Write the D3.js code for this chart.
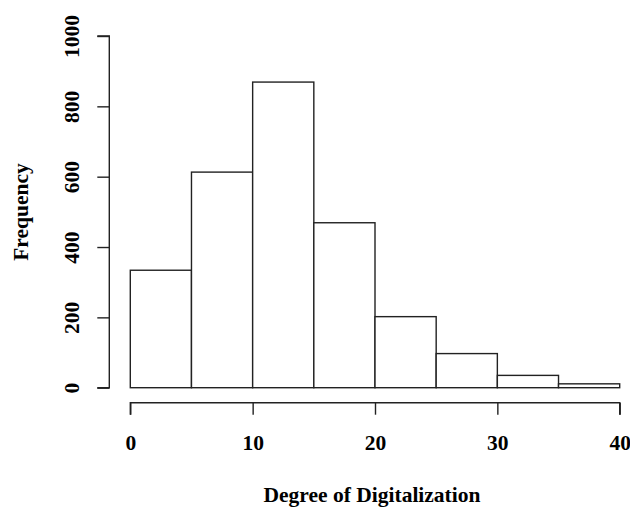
<!DOCTYPE html>
<html><head><meta charset="utf-8">
<script src="https://cdn.jsdelivr.net/npm/d3@7"></script>
<style>body{margin:0;background:#fff}svg{display:block}</style>
</head><body>
<script>
const binStarts = [0, 5, 10, 15, 20, 25, 30, 35];
const binWidth = 5;
const counts = [334, 613, 869, 469, 202, 97, 35, 11];
const xTicks = [0, 10, 20, 30, 40];
const yTicks = [0, 200, 400, 600, 800, 1000];
const xTitle = "Degree of Digitalization";
const yTitle = "Frequency";

const W = 630, H = 507;
const svg = d3.select("body").append("svg").attr("width", W).attr("height", H);
const x = d3.scaleLinear().domain([0, 40]).range([130.3, 619.7]);
const y = d3.scaleLinear().domain([0, 1000]).range([387.7, 36]);
const font = "'Liberation Serif', 'Times New Roman', serif";
const fs = 21.5;
const col = "#222";

svg.append("g").selectAll("rect").data(counts).join("rect")
  .attr("x", (d, i) => x(binStarts[i]))
  .attr("y", d => y(d))
  .attr("width", (d, i) => x(binStarts[i] + binWidth) - x(binStarts[i]))
  .attr("height", d => y(0) - y(d))
  .attr("fill", "#fff").attr("stroke", col).attr("stroke-width", 1.4);

// x axis
const xAxis = d3.axisBottom(x).tickValues(xTicks).tickSize(12).tickFormat(d3.format("d"));
const gx = svg.append("g").attr("transform", "translate(0,402.7)").call(xAxis);
gx.select(".domain").attr("stroke", col).attr("stroke-width", 1.4).attr("d", `M${x(0)},12V0H${x(40)}V12`);
gx.selectAll(".tick line").attr("stroke", col).attr("stroke-width", 1.4);
gx.selectAll(".tick text").attr("font-family", font).attr("font-weight", "bold").attr("font-size", fs).attr("fill", "#000")
  .attr("y", 47.5).attr("dy", null);

// y axis
const yAxis = d3.axisLeft(y).tickValues(yTicks).tickSize(12).tickFormat(d3.format("d"));
const gy = svg.append("g").attr("transform", "translate(109.3,0)").call(yAxis);
gy.select(".domain").attr("stroke", col).attr("stroke-width", 1.4).attr("d", `M-12,${y(1000)}H0V${y(0)}H-12`);
gy.selectAll(".tick line").attr("stroke", col).attr("stroke-width", 1.4);
gy.selectAll(".tick text").attr("font-family", font).attr("font-weight", "bold").attr("font-size", fs).attr("fill", "#000")
  .attr("x", null).attr("dy", null)
  .attr("text-anchor", "middle")
  .attr("transform", "translate(-30,0) rotate(-90)");

svg.append("text").attr("x", 372).attr("y", 502)
  .attr("text-anchor", "middle").attr("font-family", font).attr("font-weight", "bold").attr("font-size", fs)
  .text(xTitle);
svg.append("text").attr("transform", "translate(28,212) rotate(-90)")
  .attr("text-anchor", "middle").attr("font-family", font).attr("font-weight", "bold").attr("font-size", fs)
  .text(yTitle);
</script>
</body></html>
